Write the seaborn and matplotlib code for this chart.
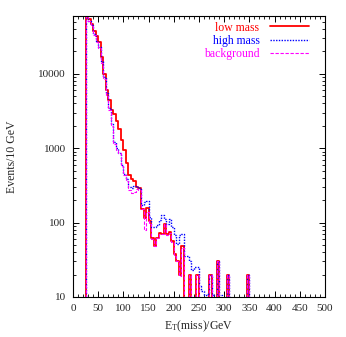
import numpy as np
import pandas as pd
import seaborn as sns
import matplotlib
matplotlib.use('Agg')
from matplotlib import pyplot as plt
from matplotlib.ticker import LogLocator, NullFormatter, MultipleLocator, FixedLocator

#%% data: events per 5 GeV bin, bins starting at 25 GeV (values < 10 fall below the axis)
bin_start = [25, 30, 35, 40, 45, 50, 55, 60, 65, 70,
             75, 80, 85, 90, 95, 100, 105, 110, 115, 120,
             125, 130, 135, 140, 145, 150, 155, 160, 165, 170,
             175, 180, 185, 190, 195, 200, 205, 210, 215, 220,
             225, 230, 235, 240, 245, 250, 255, 260, 265, 270,
             275, 280, 285, 290, 295, 300, 305, 310, 315, 320,
             325, 330, 335, 340, 345, 350, 355, 360, 365, 370,
             375, 380, 385, 390, 395, 400, 405, 410, 415, 420,
             425, 430, 435, 440, 445, 450, 455, 460, 465, 470,
             475, 480, 485, 490, 495]

low_mass = [62000, 55000, 47000, 38000, 32000, 27000, 17000, 10000, 6000, 4400,
            3300, 2900, 2300, 1800, 1300, 950, 640, 440, 380, 360,
            300, 290, 150, 115, 155, 105, 62, 48, 62, 72,
            70, 97, 70, 75, 57, 38, 30, 20, 48, 1,
            1, 20, 1, 1, 20, 1, 1, 1, 1, 20,
            1, 1, 30, 1, 1, 1, 20, 1, 1, 1,
            1, 1, 1, 1, 20, 1, 1, 1, 1, 1,
            1, 1, 1, 1, 1, 1, 1, 1, 1, 1,
            1, 1, 1, 1, 1, 1, 1, 1, 1, 1,
            1, 1, 1, 1, 1]

high_mass = [62000, 52000, 45000, 34000, 28000, 23000, 15000, 9000, 5500, 3500,
             2100, 1200, 1000, 850, 600, 450, 380, 300, 290, 310,
             300, 290, 170, 190, 195, 120, 88, 86, 92, 108,
             125, 110, 95, 113, 86, 67, 52, 67, 71, 35,
             35, 30, 23, 25, 25, 14, 12, 10.5, 11, 20,
             10.5, 8, 30, 10.5, 5, 3, 20, 3, 2, 1,
             1, 1, 1, 1, 20, 1, 1, 1, 1, 1,
             1, 1, 1, 1, 1, 1, 1, 1, 1, 1,
             1, 1, 1, 1, 1, 1, 1, 1, 1, 1,
             1, 1, 1, 1, 1]

background = [62000, 51000, 44000, 33000, 27000, 22000, 14000, 8500, 5000, 3300,
              2000, 1150, 950, 850, 580, 430, 360, 270, 250, 260,
              280, 270, 150, 80, 140, 95, 60, 48, 62, 70,
              70, 95, 68, 72, 55, 36, 30, 19, 46, 1,
              1, 20, 1, 1, 20, 1, 1, 1, 1, 20,
              1, 1, 30, 1, 1, 1, 20, 1, 1, 1,
              1, 1, 1, 1, 20, 1, 1, 1, 1, 1,
              1, 1, 1, 1, 1, 1, 1, 1, 1, 1,
              1, 1, 1, 1, 1, 1, 1, 1, 1, 1,
              1, 1, 1, 1, 1]

#%% style
sns.set_style('ticks')
plt.rcParams['font.family'] = ['Liberation Serif', 'DejaVu Serif']
plt.rcParams['mathtext.fontset'] = 'custom'
plt.rcParams['mathtext.rm'] = 'Liberation Serif'
plt.rcParams['mathtext.it'] = 'Liberation Serif:italic'

# step outline: leading point below the axis, trailing edge at 500
edges = [20] + bin_start + [500]
def steps(vals):
    return pd.DataFrame({'x': edges, 'y': [1] + vals + [vals[-1]]})

fig = plt.figure(figsize=(3.46, 3.37), dpi=100)
ax = fig.add_axes([0.211, 0.119, 0.728, 0.8335])

sns.lineplot(data=steps(low_mass), x='x', y='y', ax=ax, color='#ff0000', lw=1.3,
             drawstyle='steps-post', estimator=None, label='low mass')
sns.lineplot(data=steps(high_mass), x='x', y='y', ax=ax, color='#0000ff', lw=1.0,
             drawstyle='steps-post', estimator=None, label='high mass', linestyle=(0, (1, 1)))
sns.lineplot(data=steps(background), x='x', y='y', ax=ax, color='#ff00ff', lw=0.8,
             drawstyle='steps-post', estimator=None, label='background', linestyle=(0, (3, 1.5)))

ax.set_yscale('log')
ax.set_xlim(0, 500)
ax.set_ylim(10, 60000)

ax.xaxis.set_major_locator(MultipleLocator(50))
ax.xaxis.set_minor_locator(MultipleLocator(10))
ax.yaxis.set_major_locator(FixedLocator([10, 100, 1000, 10000]))
ax.yaxis.set_minor_locator(LogLocator(base=10, subs=np.arange(2, 10)))
ax.yaxis.set_minor_formatter(NullFormatter())
ax.set_yticklabels(['10', '100', '1000', '10000'])

ax.tick_params(which='both', direction='in', top=True, right=True, labelsize=8, color='black')
ax.tick_params(which='major', length=4, width=0.7, pad=5)
ax.tick_params(which='minor', length=2, width=0.6)
for s in ax.spines.values():
    s.set_color('black')
    s.set_linewidth(0.8)

ax.set_xlabel('E$_\\mathrm{T}$(miss)/GeV', fontsize=8.5, labelpad=4)
ax.set_ylabel('Events/10 GeV', fontsize=8.5, labelpad=15)

leg = ax.legend(loc='upper right', bbox_to_anchor=(0.937, 0.98), frameon=False,
                markerfirst=False, fontsize=8.5, handlelength=3.3, handletextpad=0.9,
                labelspacing=0.1, borderpad=0, borderaxespad=0, labelcolor='linecolor')

fig.savefig('out.png', dpi=100)
